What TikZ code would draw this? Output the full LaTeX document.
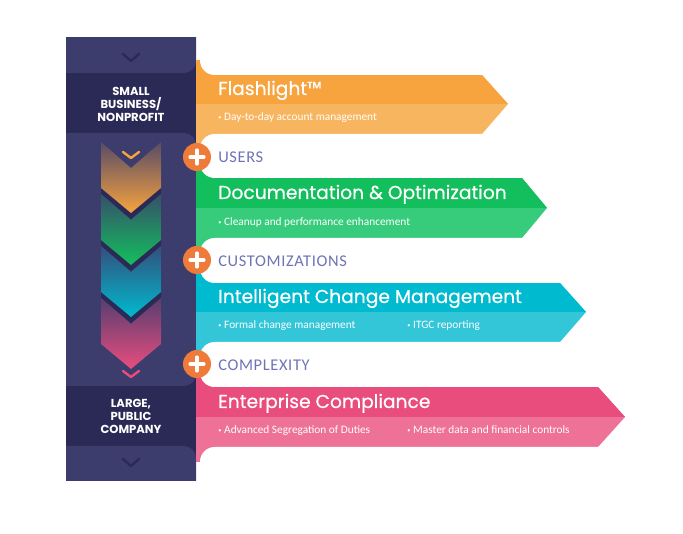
\documentclass[tikz,border=0pt]{standalone}
\usepackage{fontspec}
\setmainfont{Carlito}
\newfontfamily\titlef{Poppins}[FakeBold=0.5]
\newfontfamily\labf{Poppins}
\newfontfamily\gapf{Carlito}[LetterSpace=4]
\definecolor{navyL}{HTML}{3C3C6D}
\definecolor{navyD}{HTML}{2B2A57}
\definecolor{orH}{HTML}{F7A33E}
\definecolor{orB}{HTML}{F8B55F}
\definecolor{grH}{HTML}{12BF5C}
\definecolor{grB}{HTML}{37CC7B}
\definecolor{teH}{HTML}{00BACF}
\definecolor{teB}{HTML}{32C6D8}
\definecolor{pkH}{HTML}{E84D7E}
\definecolor{pkB}{HTML}{EE7198}
\definecolor{plusC}{HTML}{EF7B3A}
\definecolor{gapC}{HTML}{6E73B6}
\newcommand\bl{\raisebox{0.25ex}{\scalebox{0.55}{•}}\hspace{0.25em}}
\begin{document}
\begin{tikzpicture}[x=0.75pt,y=-0.75pt,
  title/.style={font=\titlef\fontsize{14}{16}\selectfont, text=white, anchor=base west, inner sep=0},
  bul/.style={font=\fontsize{8.5}{10}\selectfont, text=white, anchor=base west, inner sep=0},
  gaplab/.style={font=\gapf\fontsize{12.3}{14}\selectfont, text=gapC, anchor=west, inner sep=0},
  sidelab/.style={font=\labf\bfseries\fontsize{8.7}{9.75}\selectfont, text=white, align=center, inner sep=0},
  plus/.style={circle, fill=plusC, minimum size=21pt, inner sep=0},
  vmark/.style={line width=1.8pt, line cap=round, line join=round},
  whiterow/.style={fill=white, rounded corners=11pt}]
\useasboundingbox (0,0) rectangle (683,534);
% left column
\begin{scope}
\clip (66,38) rectangle (196,481);
\fill[navyD] (66,38) rectangle (196,481);
\fill[navyL, rounded corners=9pt] (40,10) rectangle (196,73);
\fill[navyL, rounded corners=9pt] (40,133) rectangle (196,386);
\fill[navyL, rounded corners=9pt] (40,446) rectangle (196,520);
\end{scope}
% chevrons
\foreach \c [count=\k from 0] in {orH,grH,teH,pkH} {
  \pgfmathsetmacro\t{142+52*\k}
  \ifnum\k<3
    \fill[navyD] (101,\t+6) -- (131,\t+32) -- (161,\t+6) -- (161,\t+52) -- (131,\t+77) -- (101,\t+52) -- cycle;
  \fi
  \shade[top color=\c!15!navyL, bottom color=\c] (101,\t) -- (131,\t+26) -- (161,\t) -- (161,\t+46) -- (131,\t+71) -- (101,\t+46) -- cycle;
}
\draw[vmark, navyD] (123,54) -- (131,61) -- (139,54);
\draw[vmark, orH] (123,152) -- (131,158) -- (139,152);
\draw[vmark, pkH] (123,371) -- (131,377) -- (139,371);
\draw[vmark, navyD] (123,459) -- (131,466) -- (139,459);
\node[sidelab] (small) at (131,104) {SMALL\\BUSINESS/\\NONPROFIT};
\node[sidelab] (large) at (131,416) {LARGE,\\PUBLIC\\COMPANY};
% banners
\foreach \top/\mid/\bot/\ts/\tip/\ch/\cb/\up/\dn in {75/104/134/482/508/orH/orB/15/25, 178/208/238/522/547/grH/grB/25/25, 283/312/342/560/586/teH/teB/25/25, 387/417/447/598/625/pkH/pkB/25/15} {
  \fill[\cb] (196,\top) -- (\ts,\top) -- (\tip,\mid) -- (\ts,\bot) -- (196,\bot) -- cycle;
  \fill[\ch] (196,\top) -- (\ts,\top) -- (\tip,\mid) -- (196,\mid) -- cycle;
  \fill[\ch] (196,\top-\up) rectangle (225,\top);
  \fill[\cb] (196,\bot) rectangle (225,\bot+\dn);
}
\fill[whiterow] (200,-50) rectangle (720,75);
\fill[whiterow] (200,134) rectangle (720,178);
\fill[whiterow] (200,238) rectangle (720,283);
\fill[whiterow] (200,342) rectangle (720,387);
\fill[whiterow] (200,447) rectangle (720,600);
% titles and bullets
\node[title] (t1) at (218,95) {Flashlight™};
\node[bul] (b1) at (218,121) {\bl Day-to-day account management};
\node[title] (t2) at (218,199) {Documentation \& Optimization};
\node[bul] (b2) at (218,226) {\bl Cleanup and performance enhancement};
\node[title] (t3) at (218,303) {Intelligent Change Management};
\node[bul] (b3) at (218,329) {\bl Formal change management};
\node[bul] (b3b) at (407,329) {\bl ITGC reporting};
\node[title] (t4) at (218,408) {Enterprise Compliance};
\node[bul] (b4) at (218,434) {\bl Advanced Segregation of Duties};
\node[bul] (b4b) at (407,434) {\bl Master data and financial controls};
% gap labels
\node[gaplab] (g1) at (218,157) {USERS};
\node[gaplab] (g2) at (218,261) {CUSTOMIZATIONS};
\node[gaplab] (g3) at (218,365) {COMPLEXITY};
% plus circles
\foreach \n/\y in {p1/157,p2/260,p3/364} {
  \node[plus] (\n) at (197,\y) {};
  \draw[white, line width=2.4pt, line cap=round] ([xshift=-5.2pt]\n.center) -- ([xshift=5.2pt]\n.center);
  \draw[white, line width=2.4pt, line cap=round] ([yshift=-5.2pt]\n.center) -- ([yshift=5.2pt]\n.center);
}
\end{tikzpicture}
\end{document}
